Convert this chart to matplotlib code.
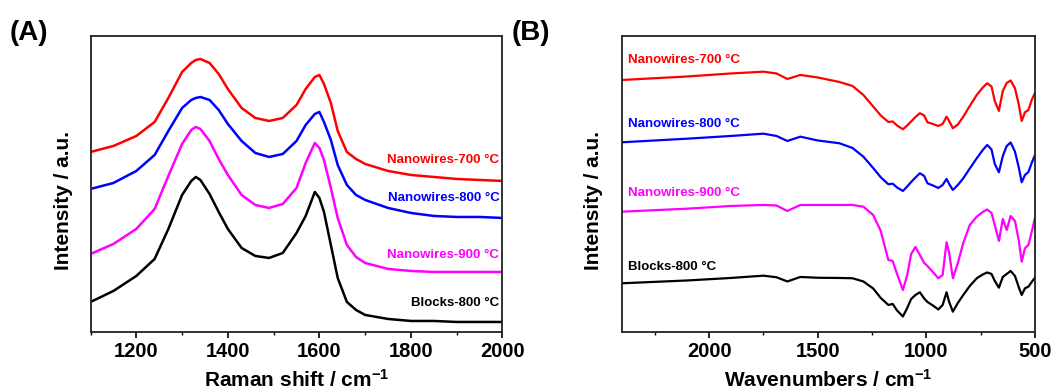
import matplotlib
matplotlib.use("Agg")
import matplotlib.pyplot as plt
from matplotlib.ticker import MultipleLocator

plt.rcParams['font.family'] = ['Liberation Sans', 'DejaVu Sans']
plt.rcParams['font.weight'] = 'bold'
plt.rcParams['mathtext.fontset'] = 'custom'
plt.rcParams['mathtext.rm'] = 'Liberation Sans:bold'
plt.rcParams['mathtext.bf'] = 'Liberation Sans:bold'
plt.rcParams['mathtext.default'] = 'bf'

# ---- Raman spectra (panel A), stacked, arbitrary units ----
raman_shift = [1100, 1150, 1200, 1240, 1270, 1300, 1320, 1330, 1340, 1360, 1380,
               1400, 1430, 1460, 1490, 1520, 1550, 1570, 1590, 1600, 1610, 1625,
               1640, 1660, 1680, 1700, 1750, 1800, 1850, 1900, 1950, 2000]
raman_nw700 = [180, 186, 196, 210, 234, 260, 269, 272, 273, 269, 258,
               243, 224, 214, 211, 214, 227, 243, 255, 257, 248, 229,
               201, 180, 173, 168, 161, 157, 155, 153, 152, 151]
raman_nw800 = [143, 149, 161, 177, 201, 224, 232, 234, 235, 232, 222,
               208, 191, 179, 175, 178, 191, 207, 218, 220, 210, 192,
               167, 147, 137, 132, 124, 119, 116, 115, 115, 114]
raman_nw900 = [78, 88, 103, 123, 156, 188, 202, 205, 203, 191, 173,
               157, 137, 127, 124, 128, 144, 169, 189, 184, 172, 144,
               114, 87, 75, 69, 63, 61, 60, 60, 60, 60]
raman_blk800 = [30, 41, 56, 73, 103, 137, 151, 155, 152, 138, 120,
                103, 84, 76, 74, 79, 99, 116, 140, 134, 120, 87,
                54, 30, 22, 17, 13, 11, 11, 10, 10, 10]

# ---- FTIR spectra (panel B), stacked, arbitrary units ----
wavenumber = [2400, 2100, 1900, 1750, 1690, 1640, 1580, 1500, 1400, 1340,
              1290, 1245, 1210, 1175, 1155, 1135, 1108, 1088, 1070, 1050,
              1030, 1010, 995, 970, 945, 925, 907, 895, 878, 855,
              830, 800, 768, 740, 720, 700, 685, 666, 648, 630,
              612, 592, 575, 561, 546, 530, 515, 500]
ftir_nw700 = [252, 255.5, 258.5, 260.3, 258.5, 253, 257, 254.5, 250, 246,
              237, 225.5, 216.5, 210, 210.5, 206.5, 202.7, 206.5, 210.5, 215,
              218.7, 216.5, 209.7, 208, 206, 208, 215.3, 211, 203.7, 207.5,
              215.3, 226, 237, 244.5, 248.7, 245.5, 231, 221, 241, 249,
              251.5, 243.7, 228, 211, 219.7, 222, 232, 239]
ftir_nw800 = [189.7, 193.3, 196, 198.3, 196, 191, 195.3, 191.5, 188.7, 184,
              175.3, 164, 154.7, 147.7, 148.3, 144.5, 141, 145.5, 150, 154.5,
              158.7, 156, 148.7, 146.5, 144, 147, 153, 148, 142, 147,
              153.7, 163.5, 173.7, 182, 187, 182.5, 168, 159.7, 176, 186,
              189.5, 180.3, 165, 149.7, 157, 160, 169, 177]
ftir_nw900 = [120.3, 123.3, 126, 127, 126.5, 121, 127, 127, 127, 127,
              125.3, 117, 101, 72, 71, 58, 42, 57, 78, 85,
              77, 69, 66, 60, 53.7, 57, 89.7, 79, 53.7, 69,
              89, 107, 115.3, 120, 122.5, 119, 107, 91, 113, 102,
              116, 111, 92, 70.3, 83.7, 87, 100, 114]
ftir_blk800 = [48.7, 51.5, 54, 56.3, 54.7, 50.5, 55, 54.2, 54, 53.7,
               50.5, 43.5, 34, 27, 28, 21.5, 15.5, 24, 33, 37,
               39.7, 33.5, 30, 26.5, 22.5, 27, 39.7, 30, 20.3, 29,
               37, 46, 53.7, 57.5, 59.5, 58, 51, 44.3, 55, 58,
               61, 56, 45, 37, 43.7, 45.3, 50, 54.3]

labels = ['Nanowires-700 °C', 'Nanowires-800 °C', 'Nanowires-900 °C', 'Blocks-800 °C']
colors = ['#ff0000', '#0000ff', '#ff00ff', '#000000']

# label anchor heights (same units as the spectra)
raman_label_y = [172, 134, 77, 29]
ftir_label_y = [272, 208, 139, 65]

fig = plt.figure(figsize=(10.59, 3.91), dpi=100)
axA = fig.add_axes([0.0855, 0.151, 0.389, 0.757])
axB = fig.add_axes([0.5876, 0.151, 0.3897, 0.757])

for ax in (axA, axB):
    for sp in ax.spines.values():
        sp.set_linewidth(1.3)
        sp.set_color('#222222')
    ax.set_ylim(0, 296)
    ax.set_yticks([])
    ax.tick_params(axis='x', which='major', direction='out', length=4, width=1.2,
                   labelsize=14.5, pad=3)
    ax.tick_params(axis='x', which='minor', direction='out', length=2.5, width=1.0)

# panel A
raman = [raman_nw700, raman_nw800, raman_nw900, raman_blk800]
for y, c in zip(raman, colors):
    axA.plot(raman_shift, y, color=c, lw=1.8)
for lab, c, ly in zip(labels, colors, raman_label_y):
    axA.text(1993, ly, lab, color=c, fontsize=9.5, fontweight='bold',
             ha='right', va='center')
axA.set_xlim(1100, 2000)
axA.xaxis.set_minor_locator(MultipleLocator(100))
axA.set_xticks([1200, 1400, 1600, 1800, 2000])
axA.set_xlabel('Raman shift / cm$^{-1}$', fontsize=15, fontweight='bold')
axA.set_ylabel('Intensity / a.u.', fontsize=15, fontweight='bold')
axA.xaxis.set_label_coords(0.5, -0.125)
axA.yaxis.set_label_coords(-0.042, 0.443)

# panel B
ftir = [ftir_nw700, ftir_nw800, ftir_nw900, ftir_blk800]
for y, c in zip(ftir, colors):
    axB.plot(wavenumber, y, color=c, lw=1.6)
for lab, c, ly in zip(labels, colors, ftir_label_y):
    axB.text(2375, ly, lab, color=c, fontsize=9.5, fontweight='bold',
             ha='left', va='center')
axB.set_xlim(2400, 500)
axB.set_xticks([2000, 1500, 1000, 500])
axB.xaxis.set_minor_locator(MultipleLocator(250))
axB.set_xlabel('Wavenumbers / cm$^{-1}$', fontsize=15, fontweight='bold')
axB.set_ylabel('Intensity / a.u.', fontsize=15, fontweight='bold')
axB.xaxis.set_label_coords(0.5, -0.125)
axB.yaxis.set_label_coords(-0.047, 0.443)

for ax in (axA, axB):
    for t in ax.get_xticklabels():
        t.set_fontweight('bold')

fig.text(0.009, 0.916, '(A)', fontsize=20, fontweight='bold', va='center')
fig.text(0.483, 0.916, '(B)', fontsize=20, fontweight='bold', va='center')

fig.savefig('out.png', dpi=100)
